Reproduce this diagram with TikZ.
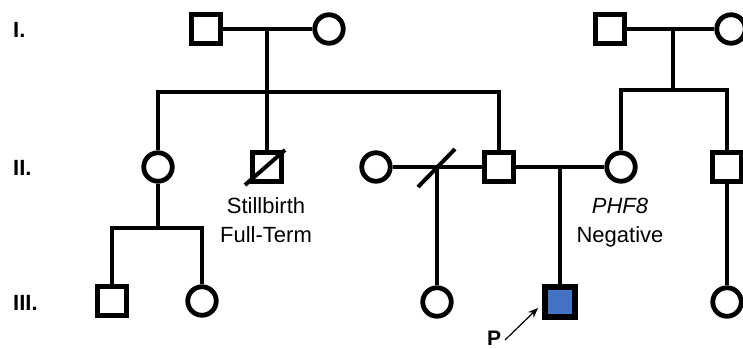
\documentclass[tikz,border=0pt]{standalone}
\usepackage{fontspec}
\setmainfont{Liberation Sans}
\usetikzlibrary{arrows.meta}
\definecolor{affblue}{HTML}{4472C4}
\begin{document}
\begin{tikzpicture}[x=1pt,y=-1pt,
  male/.style={draw, line width=4.5pt, rectangle, minimum size=29pt, inner sep=0pt, fill=white},
  female/.style={draw, line width=4.8pt, circle, minimum size=28.5pt, inner sep=0pt, fill=white},
  ln/.style={line width=4pt},
  txt/.style={font=\fontsize{22}{26}\selectfont, inner sep=0pt, anchor=base},
  gen/.style={font=\fontsize{22}{26}\selectfont\bfseries, inner sep=0pt, anchor=base west}]
\useasboundingbox (0,0) rectangle (743,348);
% generation labels
\node[gen] (gI) at (13,37) {I.};
\node[gen] (gII) at (13,175) {II.};
\node[gen] (gIII) at (13,310) {III.};
% generation I
\node[male] (I1) at (206,29) {};
\node[female] (I2) at (329,29) {};
\node[male] (I3) at (610,29) {};
\node[female] (I4) at (731,29) {};
% generation II
\node[female] (II1) at (158,167) {};
\node[male] (II2) at (267,167) {};
\node[female] (II3) at (376,167) {};
\node[male] (II4) at (499,167) {};
\node[female] (II5) at (621,167) {};
\node[male] (II6) at (727,167) {};
% generation III
\node[male] (III1) at (112,301) {};
\node[female] (III2) at (202,301) {};
\node[female] (III3) at (437,302) {};
\node[male, fill=affblue, line width=5.5pt, minimum size=30pt] (III4) at (560,302) {};
\node[female] (III5) at (727,302) {};
% helper coordinates
\coordinate (m1) at (267,29);
\coordinate (s1) at (267,92);
\coordinate (m2) at (673,29);
\coordinate (s2) at (673,90);
\coordinate (s3) at (158,228);
\coordinate (m3) at (437,167);
\coordinate (m4) at (560,167);
\coordinate (sl1) at (418,187);
\coordinate (sl2) at (455,149);
\coordinate (sb1) at (245,185);
\coordinate (sb2) at (285,150);
% family of I1 x I2
\draw[ln] (I1) -- (I2);
\draw[ln] (m1) -- (II2);
\draw[ln] (II1.north) |- (s1) -| (II4.north);
% family of I3 x I4
\draw[ln] (I3) -- (I4);
\draw[ln] (m2) -- (s2);
\draw[ln] (II5.north) |- (s2) -| (II6.north);
% family of II1
\draw[ln] (II1) -- (s3);
\draw[ln] (III1.north) |- (s3) -| (III2.north);
% II3 x II4 (separated)
\draw[ln] (II3) -- (II4);
\draw[ln] (sl1) -- (sl2);
\draw[ln] (m3) -- (III3);
% II4 x II5
\draw[ln] (II4) -- (II5);
\draw[ln] (m4) -- (III4);
% II6
\draw[ln] (II6) -- (III5);
% stillbirth slash
\draw[ln] (sb1) -- (sb2);
% labels
\node[txt] (t1) at (266,213) {Stillbirth};
\node[txt] (t2) at (266,242) {Full-Term};
\node[txt] (t3) at (620,213) {\itshape PHF8};
\node[txt] (t4) at (620,242) {Negative};
% proband
\node[gen, font=\fontsize{21}{24}\selectfont\bfseries] (P) at (487,345) {P};
\coordinate (pa) at (505,340);
\coordinate (pb) at (538,308);
\draw[line width=1.2pt, -{Stealth[length=10pt,width=8pt]}] (pa) -- (pb);
\end{tikzpicture}
\end{document}
